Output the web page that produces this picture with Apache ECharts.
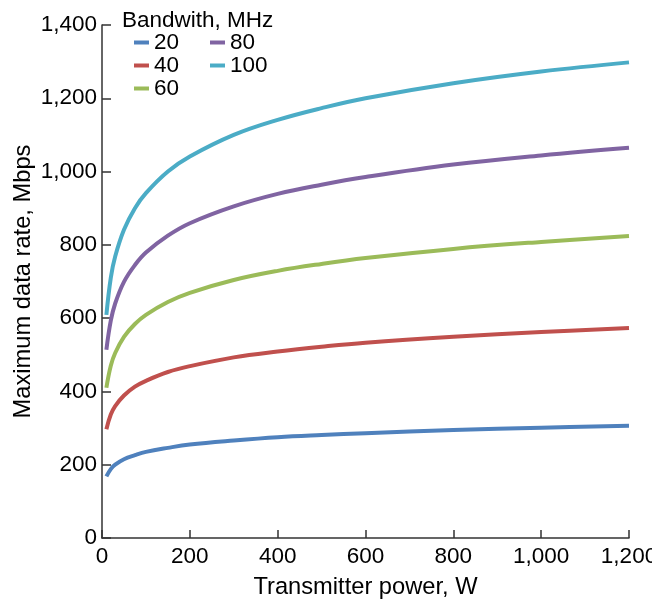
<!DOCTYPE html>
<html>
<head>
<meta charset="utf-8">
<script src="https://cdn.jsdelivr.net/npm/echarts@6/dist/echarts.min.js"></script>
<style>
  html, body { margin: 0; padding: 0; background: #fff; }
  #chart { width: 652px; height: 603px; }
</style>
</head>
<body>
<div id="chart"></div>
<script>
// Transmitter power, W
var power = [10, 20, 30, 50, 75, 100, 150, 200, 300, 400, 500, 600, 800, 1000, 1200];
// Maximum data rate, Mbps for each bandwidth
var bw20  = [168, 188, 200, 215, 226, 235, 246, 255, 266, 275, 281, 286, 295, 301, 306];
var bw40  = [297, 337, 360, 389, 413, 429, 453, 469, 493, 509, 522, 533, 549, 562, 573];
var bw60  = [410, 470, 505, 549, 584, 609, 644, 669, 704, 729, 748, 764, 789, 808, 824];
var bw80  = [514, 593, 640, 699, 745, 779, 825, 859, 905, 939, 964, 985, 1019, 1044, 1065];
var bw100 = [609, 710, 768, 841, 900, 941, 1000, 1041, 1100, 1141, 1173, 1200, 1241, 1273, 1298];
var seriesNames = ['20', '40', '60', '80', '100'];
var xTickLabels = ['0', '200', '400', '600', '800', '1,000', '1,200'];
var yTickLabels = ['0', '200', '400', '600', '800', '1,000', '1,200', '1,400'];

var colors = ['#4F81BD', '#C0504D', '#9BBB59', '#8064A2', '#4BACC6'];
var FONT = 'Liberation Sans, Arial, sans-serif';
var FS = 22.5;
var NFS = 23.7;

function pairs(ys) { return power.map(function (p, i) { return [p, ys[i]]; }); }
var allData = [bw20, bw40, bw60, bw80, bw100];

var chart = echarts.init(document.getElementById('chart'), null, { renderer: 'canvas' });
var axisLineStyle = { color: '#333', width: 1.5 };
chart.setOption({
  animation: false,
  color: colors,
  textStyle: { fontFamily: FONT },
  title: {
    text: 'Bandwith, MHz',
    left: 122, top: 9, padding: 0,
    textStyle: { fontFamily: FONT, fontSize: FS, fontWeight: 'normal', color: '#000' }
  },
  legend: [
    {
      data: seriesNames.slice(0, 3), orient: 'vertical', left: 134, top: 31, padding: 0,
      itemGap: 0, itemWidth: 15, itemHeight: 4, icon: 'rect',
      textStyle: { fontFamily: FONT, fontSize: FS, color: '#000', lineHeight: 21.7 }
    },
    {
      data: seriesNames.slice(3), orient: 'vertical', left: 210, top: 31, padding: 0,
      itemGap: 0, itemWidth: 15, itemHeight: 4, icon: 'rect',
      textStyle: { fontFamily: FONT, fontSize: FS, color: '#000', lineHeight: 21.7 }
    }
  ],
  grid: { left: 102, right: 23, top: 25, bottom: 65, containLabel: false, outerBoundsMode: 'none' },
  xAxis: {
    type: 'value', min: 0, max: 1200, interval: 200,
    name: 'Transmitter power, W', nameLocation: 'middle', nameGap: 37, nameMoveOverlap: false,
    nameTextStyle: { fontFamily: FONT, fontSize: NFS, color: '#000' },
    axisLine: { show: true, lineStyle: axisLineStyle },
    axisTick: { show: true, inside: true, length: 8, lineStyle: axisLineStyle },
    splitLine: { show: false },
    axisLabel: {
      fontFamily: FONT, fontSize: FS, color: '#000', margin: 7,
      formatter: function (v) { return xTickLabels[Math.round(v / 200)]; }
    }
  },
  yAxis: {
    type: 'value', min: 0, max: 1400, interval: 200,
    name: 'Maximum data rate, Mbps', nameLocation: 'middle', nameGap: 67, nameMoveOverlap: false,
    nameTextStyle: { fontFamily: FONT, fontSize: NFS, color: '#000' },
    axisLine: { show: true, lineStyle: axisLineStyle },
    axisTick: { show: true, inside: true, length: 9, lineStyle: axisLineStyle },
    splitLine: { show: false },
    axisLabel: {
      fontFamily: FONT, fontSize: FS, color: '#000', margin: 5,
      formatter: function (v) { return yTickLabels[Math.round(v / 200)]; }
    }
  },
  series: seriesNames.map(function (n, i) {
    return {
      name: n, type: 'line', data: pairs(allData[i]), smooth: 0.4,
      showSymbol: false, symbol: 'none',
      lineStyle: { width: 4, color: colors[i], cap: 'butt' },
      itemStyle: { color: colors[i] }
    };
  })
});
</script>
</body>
</html>
